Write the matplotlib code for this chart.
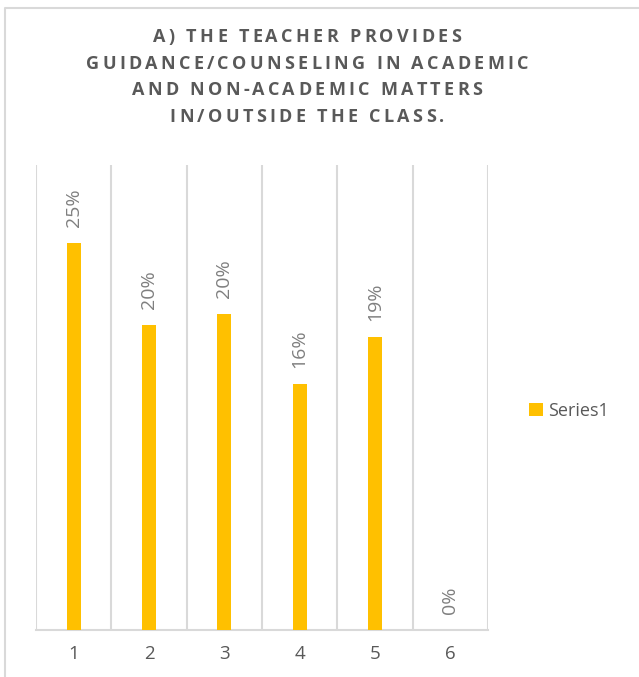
import matplotlib
matplotlib.use("Agg")
import matplotlib.pyplot as plt
from matplotlib.font_manager import FontProperties
from matplotlib.lines import Line2D

# chart data
categories = ["1", "2", "3", "4", "5", "6"]
values = [0.25, 0.197, 0.204, 0.159, 0.189, 0.0]
labels = ["25%", "20%", "20%", "16%", "19%", "0%"]
series_name = "Series1"
title_lines = [
    "A) THE TEACHER PROVIDES",
    "GUIDANCE/COUNSELING IN ACADEMIC",
    "AND NON-ACADEMIC MATTERS",
    "IN/OUTSIDE THE CLASS.",
]

W, H = 639, 677
BAR = "#FFC000"
GRID = "#d9d9d9"
TXT = "#595959"
LBL = "#7f7f7f"
FONT = ["Open Sans", "DejaVu Sans"]

fig = plt.figure(figsize=(W / 100, H / 100), dpi=100)
ax = fig.add_axes([36 / W, 1 - 630 / H, (488 - 36) / W, (630 - 165) / H])

x = list(range(1, len(categories) + 1))
bars = ax.bar(x, values, width=0.19, color=BAR, zorder=3, label=series_name)

for xi, v, lab in zip(x, values, labels):
    ax.annotate(lab, (xi, v), xytext=(0, 11.5), textcoords="offset points",
                rotation=90, ha="center", va="bottom", color=LBL,
                fontsize=14, family=FONT)

ax.set_xlim(0.5, len(categories) + 0.5)
ax.set_ylim(0, 0.30)
ax.set_xticks(x)
ax.set_xticklabels(categories, color=TXT, fontsize=13.5, family=FONT)
ax.tick_params(axis="x", length=0, pad=11)
ax.set_yticks([])
for s in ["top", "right", "left"]:
    ax.spines[s].set_visible(False)
ax.spines["bottom"].set_color(GRID)
ax.spines["bottom"].set_linewidth(1.5)
for b in [i + 0.5 for i in range(len(categories) + 1)]:
    ax.axvline(b, color=GRID, lw=1.5, zorder=1)

# legend
fig.legend(handles=[bars], labels=[series_name], loc="center left",
           bbox_to_anchor=(520 / W, 1 - 411 / H), frameon=False,
           handlelength=0.75, handleheight=0.75, handletextpad=0.3,
           borderpad=0, prop=FontProperties(family=FONT, size=13),
           labelcolor=TXT)

# title with letter spacing, drawn char by char
r = fig.canvas.get_renderer()
fp = FontProperties(family=FONT, weight="bold", size=13)
ref = r.get_text_width_height_descent("||", fp, ismath=False)[0]
track = 3.3
for i, line in enumerate(title_lines):
    ws = [r.get_text_width_height_descent("|" + c + "|", fp, ismath=False)[0] - ref
          for c in line]
    total = sum(ws) + track * (len(line) - 1)
    xp = 307 - total / 2
    yp = 42 + i * 26.7
    for c, w in zip(line, ws):
        fig.text(xp / W, 1 - yp / H, c, fontproperties=fp, color=TXT,
                 ha="left", va="baseline")
        xp += w + track

# outer chart border (cropped on right and bottom)
fig.add_artist(Line2D([5 / W, 5 / W, 1], [0, 1 - 8 / H, 1 - 8 / H],
                      color=GRID, lw=1.5, transform=fig.transFigure))

fig.savefig("out.png", dpi=100)
